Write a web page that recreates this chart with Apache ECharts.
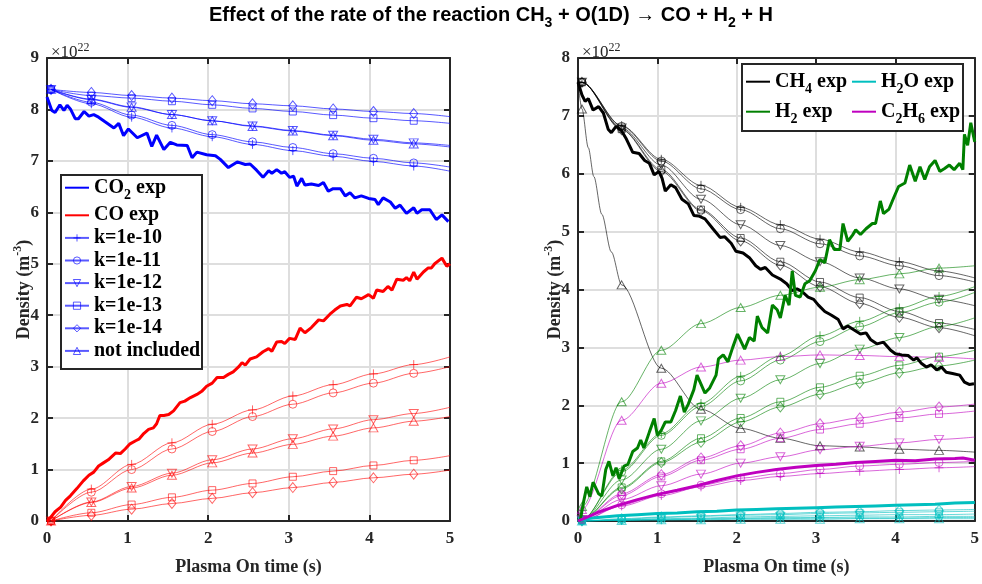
<!DOCTYPE html>
<html>
<head>
<meta charset="utf-8">
<script src="https://cdn.jsdelivr.net/npm/echarts@6/dist/echarts.min.js"></script>
<style>
  html, body { margin: 0; padding: 0; background: #fff; }
  #chart { width: 982px; height: 584px; }
</style>
</head>
<body>
<div id="chart"></div>
<script>
// all densities in units of 1e22 m^-3

// ---- left panel: CO2 / CO ----
const tLeft = [0.05, 0.55, 1.05, 1.55, 2.05, 2.55, 3.05, 3.55, 4.05, 4.55, 5];

const co2Exp = [[0,8.24],[0.06,7.98],[0.1,7.94],[0.16,8.09],[0.21,7.98],[0.25,8.08],[0.29,8.01],[0.35,7.82],[0.39,7.82],
  [0.46,7.96],[0.52,7.87],[0.58,7.9],[0.64,7.85],[0.72,7.76],[0.83,7.64],[0.89,7.73],[0.95,7.49],[1.01,7.62],[1.12,7.45],
  [1.24,7.54],[1.3,7.28],[1.36,7.5],[1.45,7.22],[1.53,7.36],[1.61,7.31],[1.74,7.3],[1.8,7.06],[1.86,7.17],[1.98,7.12],
  [2.09,7.1],[2.15,7.03],[2.25,6.87],[2.36,6.98],[2.46,6.93],[2.52,6.94],[2.6,6.82],[2.68,6.68],[2.75,6.81],[2.79,6.76],
  [2.85,6.83],[2.91,6.76],[2.95,6.79],[3.01,6.68],[3.06,6.7],[3.1,6.51],[3.16,6.66],[3.2,6.53],[3.28,6.55],[3.37,6.52],
  [3.43,6.58],[3.49,6.41],[3.55,6.46],[3.64,6.46],[3.7,6.32],[3.76,6.38],[3.82,6.28],[3.9,6.32],[3.99,6.27],[4.07,6.25],
  [4.11,6.15],[4.17,6.28],[4.26,6.2],[4.32,6.08],[4.38,6.14],[4.46,5.98],[4.55,6.09],[4.59,5.98],[4.65,6.05],[4.75,6.05],
  [4.83,5.86],[4.9,5.95],[4.98,5.82]];

const coExp = [[0,0],[0.04,0.06],[0.1,0.18],[0.17,0.27],[0.23,0.4],[0.29,0.49],[0.37,0.63],[0.45,0.78],[0.52,0.89],
  [0.58,0.95],[0.64,1.07],[0.7,1.13],[0.76,1.19],[0.85,1.32],[0.91,1.31],[0.97,1.4],[1.03,1.5],[1.1,1.56],[1.14,1.59],
  [1.2,1.7],[1.26,1.78],[1.32,1.81],[1.36,1.89],[1.4,2.05],[1.45,2.05],[1.51,2.07],[1.57,2.14],[1.65,2.3],[1.71,2.33],
  [1.78,2.4],[1.86,2.46],[1.92,2.52],[1.98,2.62],[2.05,2.68],[2.11,2.79],[2.19,2.79],[2.25,2.85],[2.31,2.9],[2.38,3.0],
  [2.42,3.08],[2.46,3.03],[2.52,3.15],[2.6,3.19],[2.68,3.29],[2.75,3.35],[2.79,3.3],[2.85,3.48],[2.91,3.49],[2.95,3.45],
  [3.01,3.55],[3.08,3.53],[3.14,3.75],[3.2,3.66],[3.28,3.76],[3.37,3.91],[3.43,3.89],[3.51,4.02],[3.57,4.1],[3.64,4.18],
  [3.72,4.21],[3.76,4.18],[3.84,4.35],[3.9,4.32],[3.99,4.4],[4.05,4.33],[4.09,4.49],[4.17,4.46],[4.23,4.56],[4.28,4.49],
  [4.34,4.7],[4.42,4.68],[4.46,4.73],[4.5,4.67],[4.55,4.84],[4.59,4.7],[4.67,4.84],[4.73,4.92],[4.77,4.92],[4.81,5.0],
  [4.9,5.11],[4.96,4.95],[5.0,5.0]];

const co2K10 = [8.39, 8.11, 7.85, 7.64, 7.47, 7.32, 7.2, 7.09, 6.99, 6.9, 6.8];
const co2K11 = [8.39, 8.14, 7.89, 7.69, 7.51, 7.37, 7.26, 7.14, 7.05, 6.96, 6.88];
const co2K12 = [8.39, 8.2, 8.05, 7.9, 7.78, 7.68, 7.59, 7.5, 7.42, 7.35, 7.3];
const co2K13 = [8.39, 8.27, 8.22, 8.16, 8.09, 8.02, 7.96, 7.89, 7.83, 7.78, 7.73];
const co2K14 = [8.39, 8.33, 8.27, 8.22, 8.17, 8.11, 8.07, 8.01, 7.96, 7.92, 7.86];
const co2Ni  = [8.39, 8.19, 8.04, 7.9, 7.78, 7.67, 7.58, 7.49, 7.4, 7.33, 7.27];

const coK10 = [0, 0.62, 1.1, 1.52, 1.88, 2.16, 2.43, 2.65, 2.86, 3.04, 3.19];
const coK11 = [0, 0.56, 1.0, 1.4, 1.74, 2.03, 2.27, 2.49, 2.68, 2.87, 3.0];
const coK12 = [0, 0.37, 0.67, 0.93, 1.19, 1.4, 1.6, 1.79, 1.97, 2.09, 2.21];
const coK13 = [0, 0.16, 0.32, 0.46, 0.6, 0.73, 0.86, 0.97, 1.08, 1.18, 1.27];
const coK14 = [0, 0.11, 0.23, 0.34, 0.44, 0.55, 0.65, 0.75, 0.84, 0.91, 0.99];
const coNi  = [0, 0.36, 0.64, 0.89, 1.13, 1.32, 1.49, 1.65, 1.81, 1.94, 2.03];

// ---- right panel: CH4 / H2 / H2O / C2H6 ----
const tRight = [0, 0.05, 0.55, 1.05, 1.55, 2.05, 2.55, 3.05, 3.55, 4.05, 4.55, 5];
const tRightCh4Ni = [0, 0.05, 0.13, 0.2, 0.3, 0.42, 0.55, 1.05, 1.55, 2.05, 2.55, 3.05, 3.55, 4.05, 4.55, 5];

const ch4Exp = [[0,7.58],[0.05,7.36],[0.09,7.25],[0.13,7.3],[0.19,7.1],[0.26,7.16],[0.32,7.05],[0.38,6.77],[0.42,6.71],
  [0.48,6.82],[0.55,6.74],[0.61,6.6],[0.69,6.37],[0.77,6.35],[0.84,6.23],[0.9,6.18],[0.96,5.98],[1.02,6.04],[1.06,5.92],
  [1.1,5.7],[1.17,5.81],[1.23,5.76],[1.31,5.56],[1.39,5.48],[1.46,5.28],[1.52,5.27],[1.6,5.22],[1.7,5.05],[1.79,4.9],
  [1.85,4.91],[1.93,4.8],[1.99,4.66],[2.08,4.63],[2.16,4.55],[2.24,4.41],[2.3,4.35],[2.36,4.38],[2.45,4.25],[2.55,4.18],
  [2.63,4.1],[2.7,3.98],[2.76,4.01],[2.82,3.97],[2.9,3.87],[2.97,3.83],[3.03,3.73],[3.11,3.62],[3.19,3.56],[3.28,3.48],
  [3.34,3.32],[3.4,3.37],[3.48,3.3],[3.56,3.23],[3.63,3.25],[3.69,3.13],[3.77,3.06],[3.85,3.09],[3.94,2.95],[4.0,2.89],
  [4.08,2.87],[4.16,2.86],[4.23,2.78],[4.27,2.82],[4.33,2.72],[4.39,2.66],[4.45,2.7],[4.52,2.61],[4.58,2.66],[4.64,2.57],
  [4.72,2.55],[4.81,2.52],[4.87,2.4],[4.93,2.36],[4.99,2.37]];

const h2Exp = [[0,0],[0.03,0.02],[0.07,0.33],[0.11,0.59],[0.15,0.42],[0.19,0.67],[0.26,0.47],[0.3,0.43],[0.35,0.89],
  [0.39,1.03],[0.44,0.78],[0.48,0.92],[0.52,0.73],[0.58,0.95],[0.63,0.98],[0.69,1.2],[0.75,1.26],[0.79,1.4],[0.83,1.26],
  [0.9,1.54],[0.96,1.77],[1.0,1.48],[1.05,1.57],[1.1,1.71],[1.17,1.71],[1.23,1.91],[1.29,2.16],[1.34,1.88],[1.39,2.02],
  [1.46,2.27],[1.5,2.52],[1.6,2.21],[1.66,2.3],[1.74,2.52],[1.77,2.8],[1.83,2.87],[1.89,2.75],[1.95,3.0],[2.01,3.23],
  [2.1,2.97],[2.16,3.17],[2.22,3.11],[2.26,3.54],[2.32,3.34],[2.39,3.25],[2.45,3.73],[2.51,3.65],[2.55,3.51],[2.61,3.9],
  [2.66,3.73],[2.7,4.32],[2.74,3.9],[2.8,3.87],[2.86,4.1],[2.92,4.15],[2.99,4.32],[3.05,4.52],[3.11,4.46],[3.17,4.86],
  [3.23,4.69],[3.3,4.69],[3.34,5.14],[3.4,4.83],[3.46,4.94],[3.5,5.03],[3.56,4.95],[3.63,5.05],[3.71,5.14],[3.75,5.14],
  [3.81,5.53],[3.85,5.31],[3.92,5.39],[3.98,5.59],[4.04,5.78],[4.12,5.84],[4.18,6.15],[4.25,5.87],[4.31,6.12],[4.37,5.9],
  [4.43,6.12],[4.5,6.23],[4.56,6.04],[4.62,6.09],[4.68,6.15],[4.74,6.07],[4.81,6.18],[4.85,6.07],[4.87,6.68],[4.91,6.49],
  [4.95,6.88],[5.0,6.55]];

const h2oExp = [[0,0],[0.1,0.04],[0.25,0.06],[0.5,0.09],[0.75,0.11],[1,0.13],[1.25,0.14],[1.5,0.16],[1.75,0.17],[2,0.19],
  [2.25,0.2],[2.5,0.21],[2.75,0.22],[3,0.23],[3.25,0.24],[3.5,0.25],[3.75,0.26],[4,0.27],[4.25,0.28],[4.5,0.29],
  [4.75,0.31],[5,0.32]];

const c2h6Exp = [[0,0],[0.1,0.06],[0.25,0.15],[0.5,0.27],[0.75,0.37],[1,0.46],[1.25,0.53],[1.5,0.61],[1.75,0.7],[2,0.78],
  [2.25,0.84],[2.5,0.89],[2.75,0.93],[3,0.96],[3.25,0.98],[3.5,1.01],[3.75,1.03],[4,1.05],[4.25,1.04],[4.5,1.07],
  [4.75,1.08],[4.85,1.09],[5,1.05]];

const ch4K10 = [7.58, 7.58, 6.83, 6.25, 5.8, 5.42, 5.12, 4.87, 4.65, 4.48, 4.32, 4.2];
const ch4K11 = [7.58, 7.58, 6.82, 6.22, 5.74, 5.38, 5.05, 4.79, 4.58, 4.41, 4.24, 4.13];
const ch4K12 = [7.58, 7.58, 6.79, 6.15, 5.56, 5.12, 4.76, 4.48, 4.2, 4.01, 3.83, 3.72];
const ch4K13 = [7.58, 7.58, 6.77, 6.07, 5.38, 4.89, 4.48, 4.13, 3.86, 3.62, 3.42, 3.31];
const ch4K14 = [7.58, 7.58, 6.76, 6.04, 5.36, 4.84, 4.42, 4.05, 3.76, 3.52, 3.34, 3.2];
const ch4Ni  = [7.58, 7.12, 6.45, 5.95, 5.3, 4.65, 4.08, 2.64, 1.93, 1.6, 1.43, 1.3, 1.28, 1.24, 1.22, 1.19];

const h2K10 = [0, 0.02, 0.88, 1.51, 2.03, 2.5, 2.85, 3.2, 3.45, 3.68, 3.88, 4.05];
const h2K11 = [0, 0.02, 0.85, 1.48, 1.98, 2.42, 2.78, 3.1, 3.36, 3.6, 3.78, 3.95];
const h2K12 = [0, 0.02, 0.71, 1.24, 1.73, 2.12, 2.44, 2.72, 2.97, 3.17, 3.36, 3.51];
const h2K13 = [0, 0.02, 0.58, 1.03, 1.43, 1.78, 2.06, 2.31, 2.51, 2.69, 2.84, 2.95];
const h2K14 = [0, 0.02, 0.56, 1.01, 1.36, 1.71, 1.97, 2.19, 2.38, 2.56, 2.68, 2.78];
const h2Ni  = [0, 0.25, 2.06, 2.95, 3.41, 3.69, 3.9, 4.04, 4.17, 4.27, 4.37, 4.41];

const c2h6K10 = [0, 0.01, 0.26, 0.44, 0.59, 0.7, 0.77, 0.82, 0.86, 0.89, 0.92, 0.94];
const c2h6K11 = [0, 0.01, 0.28, 0.47, 0.62, 0.74, 0.82, 0.89, 0.95, 0.98, 1.01, 1.03];
const c2h6K12 = [0, 0.02, 0.37, 0.61, 0.81, 1.0, 1.11, 1.23, 1.29, 1.35, 1.41, 1.45];
const c2h6K13 = [0, 0.02, 0.44, 0.77, 1.05, 1.24, 1.43, 1.58, 1.68, 1.78, 1.85, 1.9];
const c2h6K14 = [0, 0.02, 0.47, 0.8, 1.09, 1.3, 1.52, 1.68, 1.78, 1.88, 1.97, 2.02];
const c2h6Ni  = [0, 0.2, 1.74, 2.38, 2.66, 2.78, 2.84, 2.87, 2.86, 2.84, 2.83, 2.8];

const h2oK10 = [0, 0, 0.01, 0.02, 0.03, 0.04, 0.04, 0.05, 0.05, 0.05, 0.06, 0.06];
const h2oK11 = [0, 0, 0.02, 0.03, 0.04, 0.05, 0.06, 0.06, 0.07, 0.07, 0.08, 0.08];
const h2oK12 = [0, 0, 0.02, 0.04, 0.05, 0.07, 0.08, 0.09, 0.1, 0.11, 0.11, 0.12];
const h2oK13 = [0, 0, 0.03, 0.06, 0.08, 0.1, 0.11, 0.13, 0.14, 0.15, 0.16, 0.17];
const h2oK14 = [0, 0, 0.04, 0.07, 0.09, 0.11, 0.13, 0.15, 0.16, 0.18, 0.19, 0.2];
const h2oNi  = [0, 0, 0.01, 0.02, 0.02, 0.03, 0.03, 0.03, 0.04, 0.04, 0.04, 0.04];

// ---- styling ----
const SERIF = 'Liberation Serif';
const AX = '#262626';

const markers = {
  k10: { name: 'k=1e-10', symbol: 'path://M0,5L10,5M5,0L5,10', size: 9 },
  k11: { name: 'k=1e-11', symbol: 'circle', size: 8 },
  k12: { name: 'k=1e-12', symbol: 'path://M0,0L10,0L5,9Z', size: [9, 8] },
  k13: { name: 'k=1e-13', symbol: 'rect', size: 7 },
  k14: { name: 'k=1e-14', symbol: 'diamond', size: [8, 10] },
  ni:  { name: 'not included', symbol: 'triangle', size: [9, 8] }
};

// markers sit at 0.05, 0.55, ... 4.55 s
function isMarker(t) {
  const r = (t - 0.05) / 0.5;
  return t < 4.9 && Math.abs(r - Math.round(r)) < 1e-6;
}

function model(key, times, vals, color, idx) {
  const m = markers[key];
  return {
    name: m.name, type: 'line', xAxisIndex: idx, yAxisIndex: idx,
    data: times.map((t, i) => isMarker(t) ? [t, vals[i]] : { value: [t, vals[i]], symbol: 'none' }),
    symbol: m.symbol, symbolSize: m.size, showSymbol: true,
    smooth: 0.3, smoothMonotone: 'x',
    lineStyle: { color: color, width: 1 },
    itemStyle: { color: 'rgba(0,0,0,0)', borderColor: color, borderWidth: 1 },
    z: 2, silent: true
  };
}

function expLine(name, pts, color, idx) {
  return {
    name: name, type: 'line', xAxisIndex: idx, yAxisIndex: idx, data: pts,
    symbol: 'none', lineStyle: { color: color, width: 3 }, itemStyle: { color: color },
    z: 4, silent: true
  };
}

const blueM = 'rgba(0,0,255,0.65)', redM = 'rgba(255,0,0,0.6)', blackM = 'rgba(0,0,0,0.6)';
const greenM = 'rgba(0,128,0,0.6)', magM = 'rgba(191,0,191,0.6)', cyanM = 'rgba(0,191,191,0.6)';

const series = [
  expLine('CO2 exp', co2Exp, '#0000ff', 0),
  expLine('CO exp', coExp, '#ff0000', 0),
  model('k10', tLeft, co2K10, blueM, 0), model('k11', tLeft, co2K11, blueM, 0),
  model('k12', tLeft, co2K12, blueM, 0), model('k13', tLeft, co2K13, blueM, 0),
  model('k14', tLeft, co2K14, blueM, 0), model('ni', tLeft, co2Ni, blueM, 0),
  model('k10', tLeft, coK10, redM, 0), model('k11', tLeft, coK11, redM, 0),
  model('k12', tLeft, coK12, redM, 0), model('k13', tLeft, coK13, redM, 0),
  model('k14', tLeft, coK14, redM, 0), model('ni', tLeft, coNi, redM, 0),

  model('k10', tRight, ch4K10, blackM, 1), model('k11', tRight, ch4K11, blackM, 1),
  model('k12', tRight, ch4K12, blackM, 1), model('k13', tRight, ch4K13, blackM, 1),
  model('k14', tRight, ch4K14, blackM, 1), model('ni', tRightCh4Ni, ch4Ni, blackM, 1),
  model('k10', tRight, h2K10, greenM, 1), model('k11', tRight, h2K11, greenM, 1),
  model('k12', tRight, h2K12, greenM, 1), model('k13', tRight, h2K13, greenM, 1),
  model('k14', tRight, h2K14, greenM, 1), model('ni', tRight, h2Ni, greenM, 1),
  model('k10', tRight, c2h6K10, magM, 1), model('k11', tRight, c2h6K11, magM, 1),
  model('k12', tRight, c2h6K12, magM, 1), model('k13', tRight, c2h6K13, magM, 1),
  model('k14', tRight, c2h6K14, magM, 1), model('ni', tRight, c2h6Ni, magM, 1),
  model('k10', tRight, h2oK10, cyanM, 1), model('k11', tRight, h2oK11, cyanM, 1),
  model('k12', tRight, h2oK12, cyanM, 1), model('k13', tRight, h2oK13, cyanM, 1),
  model('k14', tRight, h2oK14, cyanM, 1), model('ni', tRight, h2oNi, cyanM, 1),
  expLine('CH4 exp', ch4Exp, '#000000', 1),
  expLine('H2O exp', h2oExp, '#00bfbf', 1),
  expLine('H2 exp', h2Exp, '#008000', 1),
  expLine('C2H6 exp', c2h6Exp, '#bf00bf', 1)
];

// axes: x/y index 0,1 = main (bottom/left) of grid 0,1 ; 2,3 = box sides (top/right)
const lineSt = { color: AX, width: 2 };
const tickLabel = { fontFamily: SERIF, fontWeight: 'bold', fontSize: 17, color: AX };
const nameSt = {
  fontFamily: SERIF, fontWeight: 'bold', fontSize: 18, color: AX, lineHeight: 24,
  rich: { sup: { fontFamily: SERIF, fontWeight: 'bold', fontSize: 12, lineHeight: 12, verticalAlign: 'top', color: AX } }
};

function mainX(gi) {
  return {
    type: 'value', gridIndex: gi, min: 0, max: 5, interval: 1, position: 'bottom',
    axisLine: { onZero: false, lineStyle: lineSt },
    axisTick: { inside: true, length: 6, lineStyle: lineSt },
    axisLabel: Object.assign({ margin: 9 }, tickLabel),
    splitLine: { show: true, lineStyle: { color: '#dedede', width: 2 } },
    name: 'Plasma On time (s)', nameLocation: 'middle', nameGap: 34, nameMoveOverlap: false, nameTextStyle: nameSt
  };
}
function topX(gi) {
  return {
    type: 'value', gridIndex: gi, min: 0, max: 5, interval: 1, position: 'top',
    axisLine: { onZero: false, lineStyle: lineSt },
    axisTick: { inside: true, length: 6, lineStyle: lineSt },
    axisLabel: { show: false }, splitLine: { show: false }
  };
}
function mainY(gi, max) {
  return {
    type: 'value', gridIndex: gi, min: 0, max: max, interval: 1, position: 'left',
    axisLine: { onZero: false, lineStyle: lineSt },
    axisTick: { inside: true, length: 6, lineStyle: lineSt },
    axisLabel: Object.assign({ margin: 8 }, tickLabel),
    splitLine: { show: true, lineStyle: { color: '#dedede', width: 2 } },
    name: 'Density (m{sup|-3})', nameLocation: 'middle', nameRotate: 90, nameGap: 11,
    nameMoveOverlap: false, nameTextStyle: nameSt
  };
}
function rightY(gi, max) {
  return {
    type: 'value', gridIndex: gi, min: 0, max: max, interval: 1, position: 'right',
    axisLine: { onZero: false, lineStyle: lineSt },
    axisTick: { inside: true, length: 6, lineStyle: lineSt },
    axisLabel: { show: false }, splitLine: { show: false }
  };
}

// legend labels with subscripts
const legendText = {
  'CO2 exp': '{b|CO}{s|2}{b| exp}',
  'CH4 exp': '{b|CH}{s|4}{b| exp}',
  'H2O exp': '{b|H}{s|2}{b|O exp}',
  'H2 exp': '{b|H}{s|2}{b| exp}',
  'C2H6 exp': '{b|C}{s|2}{b|H}{s|6}{b| exp}'
};
function legendRich(bh) {
  return {
    b: { fontFamily: SERIF, fontWeight: 'bold', fontSize: 20, color: '#000', lineHeight: bh, verticalAlign: 'middle' },
    s: { fontFamily: SERIF, fontWeight: 'bold', fontSize: 14, color: '#000', lineHeight: 14, padding: [16, 0, 0, 0], verticalAlign: 'middle' },
    n: { fontFamily: SERIF, fontWeight: 'bold', fontSize: 20, color: '#000', lineHeight: 20 }
  };
}
const fmt = n => legendText[n] || '{n|' + n + '}';

// legend entries: thick lines show no marker, model entries show hollow markers
function expItem(name) { return { name: name, itemStyle: { opacity: 0 } }; }
function modelItem(name) {
  return { name: name, itemStyle: { color: 'rgba(0,0,0,0)', borderColor: blueM, borderWidth: 1 } };
}

const legendBase = {
  orient: 'vertical', padding: 0, itemWidth: 24, itemHeight: 9,
  selectedMode: false, z: 60, formatter: fmt
};

const option = {
  animation: false,
  backgroundColor: '#ffffff',
  title: [
    {
      text: 'Effect of the rate of the reaction CH{s|3} + O(1D) → CO + H{s|2} + H',
      left: 'center', top: 0, padding: 0,
      textStyle: {
        fontFamily: 'Liberation Sans', fontWeight: 'bold', fontSize: 20, color: '#000', lineHeight: 30,
        rich: { s: { fontFamily: 'Liberation Sans', fontWeight: 'bold', fontSize: 14, lineHeight: 14, padding: [16, 0, 0, 0], verticalAlign: 'middle', color: '#000' } }
      }
    },
    {
      text: '×10{p|22}', left: 46, top: 37,
      textStyle: {
        fontFamily: SERIF, fontWeight: 'normal', fontSize: 17, color: AX, lineHeight: 22,
        rich: { p: { fontFamily: SERIF, fontSize: 12, lineHeight: 12, verticalAlign: 'top', color: AX } }
      }
    },
    {
      text: '×10{p|22}', left: 577, top: 37,
      textStyle: {
        fontFamily: SERIF, fontWeight: 'normal', fontSize: 17, color: AX, lineHeight: 22,
        rich: { p: { fontFamily: SERIF, fontSize: 12, lineHeight: 12, verticalAlign: 'top', color: AX } }
      }
    }
  ],
  grid: [
    { left: 47, top: 58, width: 403, height: 475 },
    { left: 578, top: 58, width: 403, height: 475 }
  ],
  xAxis: [mainX(0), mainX(1), topX(0), topX(1)],
  yAxis: [mainY(0, 9), mainY(1, 8), rightY(0, 9), rightY(1, 8)],
  // legend frames
  graphic: [
    { type: 'rect', z: 55, silent: true, shape: { x: 61, y: 175, width: 141, height: 194 },
      style: { fill: '#fff', stroke: AX, lineWidth: 2 } },
    { type: 'rect', z: 55, silent: true, shape: { x: 742, y: 64, width: 221, height: 67 },
      style: { fill: '#fff', stroke: AX, lineWidth: 2 } }
  ],
  legend: [
    Object.assign({}, legendBase, {
      data: [expItem('CO2 exp'), expItem('CO exp'), modelItem('k=1e-10'), modelItem('k=1e-11'),
        modelItem('k=1e-12'), modelItem('k=1e-13'), modelItem('k=1e-14'), modelItem('not included')],
      left: 64, top: 172.7, itemGap: 2.6,
      textStyle: { rich: legendRich(36) }
    }),
    Object.assign({}, legendBase, {
      data: [expItem('CH4 exp'), expItem('H2 exp')],
      left: 745, top: 66.7, itemGap: 0,
      textStyle: { rich: legendRich(30) }
    }),
    Object.assign({}, legendBase, {
      data: [expItem('H2O exp'), expItem('C2H6 exp')],
      left: 851, top: 66.7, itemGap: 0,
      textStyle: { rich: legendRich(30) }
    })
  ],
  series: series
};

const chart = echarts.init(document.getElementById('chart'));
chart.setOption(option);
</script>
</body>
</html>
